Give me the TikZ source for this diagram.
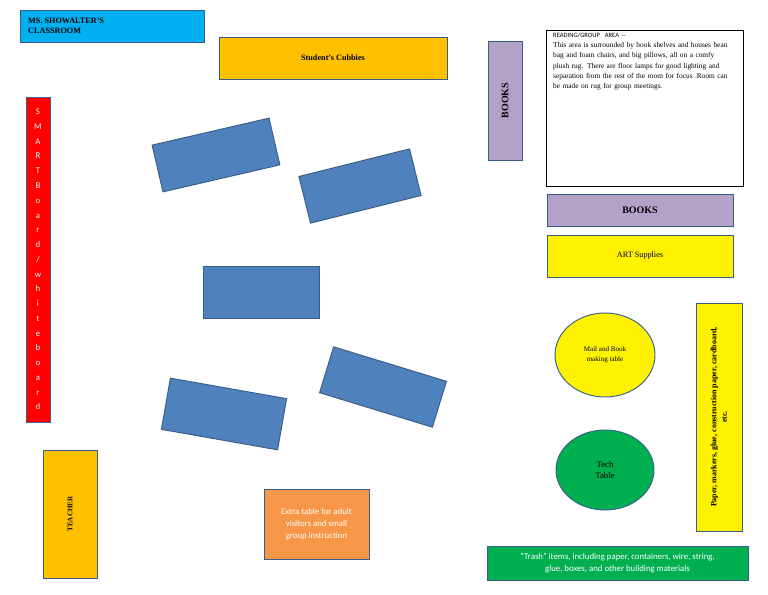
\documentclass[tikz,border=0pt]{standalone}
\usepackage{fontspec}
\setmainfont{Liberation Serif}
\newfontfamily\sansfont{Carlito}
\usetikzlibrary{shapes.geometric}
\definecolor{titleblue}{HTML}{00B0F0}
\definecolor{cubbyorange}{HTML}{FFC000}
\definecolor{booklilac}{HTML}{B3A2C7}
\definecolor{deskblue}{HTML}{4F81BD}
\definecolor{deskedge}{HTML}{385D8A}
\definecolor{techgreen}{HTML}{00B050}
\definecolor{tableorange}{HTML}{F79646}
\tikzstyle{area} = [rectangle, draw=deskedge, line width=0.8pt, inner sep=1pt, align=center, font=\fontsize{7}{9}\selectfont]
\tikzstyle{desk} = [rectangle, draw=deskedge, fill=deskblue, line width=0.8pt]
\tikzstyle{round} = [ellipse, draw=deskedge, line width=0.8pt, align=center, font=\fontsize{7}{9}\selectfont]

\begin{document}
\begin{tikzpicture}[x=0.03cm, y=-0.03cm]
    \useasboundingbox (0,0) rectangle (768,594);
    \node [area, fill=titleblue, minimum width=5.52cm, minimum height=0.96cm] (title) at (112,26) {};
    \node [anchor=west, align=left, inner sep=0pt, font=\bfseries\fontsize{7}{9}\selectfont] at (28,26) {MS. SHOWALTER'S\\CLASSROOM};
    \node [area, fill=cubbyorange, minimum width=6.84cm, minimum height=1.26cm, font=\bfseries\fontsize{7}{9}\selectfont] (cubbies) at (333,58) {Student's Cubbies};
    \node [area, fill=booklilac, minimum width=1.02cm, minimum height=3.57cm] (booksV) at (505,100.5) {};
    \node [rotate=90, font=\bfseries\fontsize{8.5}{9}\selectfont] at (booksV) {BOOKS};
    \node [rectangle, draw=black, line width=0.6pt, minimum width=5.91cm, minimum height=4.68cm] (reading) at (644.5,108) {};
    \node [anchor=north west, text width=5.3cm, inner sep=0pt, font=\fontsize{6.3}{8.6}\selectfont] at (553,33) {{\sansfont\fontsize{5.6}{8.6}\selectfont READING/GROUP\ \ AREA --}\\This area is surrounded by book shelves and houses bean bag and foam chairs, and big pillows, all on a comfy plush rug. There are floor lamps for good lighting and separation from the rest of the room for focus .Room can be made on rug for group meetings.};
    \node [area, fill=booklilac, minimum width=5.58cm, minimum height=0.96cm, font=\bfseries\fontsize{8.5}{9}\selectfont] (booksH) at (640,210) {BOOKS};
    \node [area, fill=yellow, minimum width=5.58cm, minimum height=1.26cm] (art) at (640,256) {ART Supplies};
    \node [area, fill=yellow, minimum width=1.38cm, minimum height=6.84cm] (paper) at (719,417) {};
    \node [rotate=90, align=center, font=\bfseries\fontsize{6.8}{9}\selectfont] at (paper) {Paper, markers, glue, construction paper, cardboard,\\etc.};
    \node [round, fill=yellow, minimum width=3cm, minimum height=2.52cm, font=\fontsize{6}{8}\selectfont] (mail) at (605,355) {Mail and Book\\making table};
    \node [round, fill=techgreen, minimum width=2.94cm, minimum height=2.4cm, font=\fontsize{7.5}{10}\selectfont] (tech) at (605,470) {Tech\\Table};
    \node [area, fill=techgreen, minimum width=7.83cm, minimum height=1.02cm, text=white, font=\sansfont\fontsize{7.5}{10}\selectfont] (trash) at (617.5,563) {“Trash” items, including paper, containers, wire, string,\\glue, boxes, and other building materials};
    \node [area, fill=tableorange, minimum width=3.15cm, minimum height=2.1cm, text=white, font=\sansfont\fontsize{7.5}{10.5}\selectfont] (extra) at (316.5,524) {Extra table for adult\\visitors and small\\group instruction};
    \node [area, fill=cubbyorange, minimum width=1.62cm, minimum height=3.84cm] (teacher) at (70,514) {};
    \node [rotate=90, font=\bfseries\fontsize{6}{7}\selectfont] at (teacher) {TEACHER};
    \node [area, fill=red, minimum width=0.72cm, minimum height=9.75cm, text=white, font=\sansfont\fontsize{7.5}{12.6}\selectfont] (smart) at (38,259.5) {S\\M\\A\\R\\T\\B\\o\\a\\r\\d\\/\\w\\h\\i\\t\\e\\b\\o\\a\\r\\d};
    \node [desk, minimum width=3.6cm, minimum height=1.44cm, rotate=13] (deskA) at (216,155) {};
    \node [desk, minimum width=3.42cm, minimum height=1.44cm, rotate=14] (deskB) at (360,186) {};
    \node [desk, minimum width=3.48cm, minimum height=1.56cm] (deskC) at (261,292) {};
    \node [desk, minimum width=3.54cm, minimum height=1.44cm, rotate=-17] (deskD) at (383,387) {};
    \node [desk, minimum width=3.54cm, minimum height=1.56cm, rotate=-10] (deskE) at (224,414) {};
  \end{tikzpicture}
\end{document}
